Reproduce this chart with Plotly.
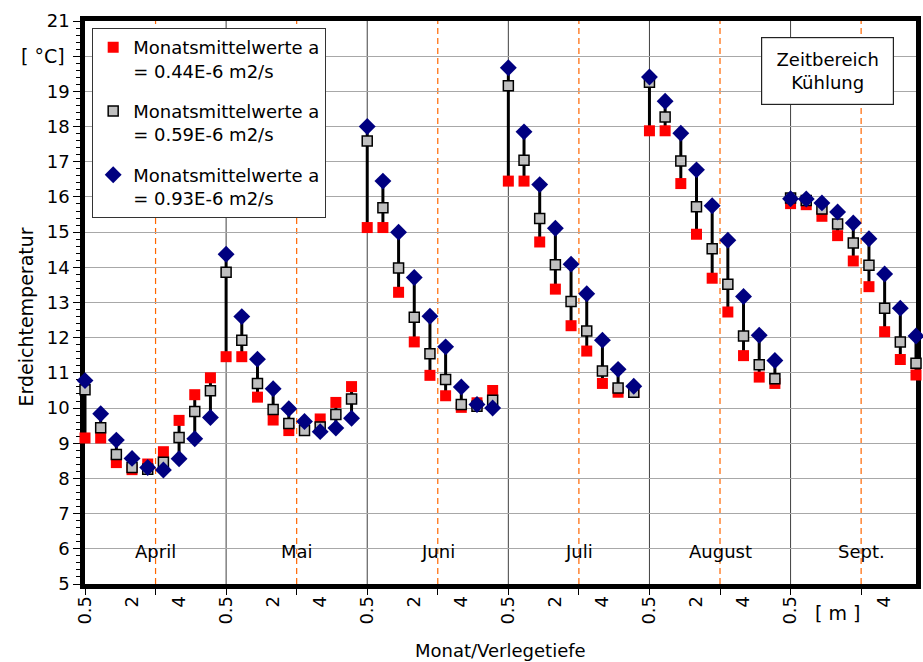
import plotly.graph_objects as go

# Monthly mean ground temperatures at each laying depth, three soil diffusivities
months = ["April", "Mai", "Juni", "Juli", "August", "Sept."]
depth_labels = ["0.5", "2", "4"]
pts_per_month = 9

temp_a044 = [9.15, 9.15, 8.45, 8.25, 8.41, 8.76, 9.65, 10.38, 10.86,
             11.46, 11.46, 10.31, 9.66, 9.36, 9.40, 9.69, 10.16, 10.61,
             15.13, 15.13, 13.29, 11.88, 10.93, 10.35, 10.02, 10.15, 10.50,
             16.45, 16.45, 14.72, 13.38, 12.34, 11.62, 10.70, 10.45, 10.45,
             17.88, 17.88, 16.38, 14.94, 13.69, 12.73, 11.49, 10.88, 10.70,
             15.81, 15.78, 15.45, 14.90, 14.18, 13.45, 12.17, 11.38, 10.94]

temp_a059 = [10.52, 9.44, 8.68, 8.31, 8.26, 8.46, 9.16, 9.90, 10.49,
             13.86, 11.93, 10.70, 9.96, 9.56, 9.36, 9.46, 9.82, 10.26,
             17.59, 15.69, 13.98, 12.58, 11.54, 10.81, 10.10, 10.05, 10.22,
             19.16, 17.04, 15.39, 14.07, 13.03, 12.19, 11.05, 10.57, 10.45,
             19.26, 18.27, 17.02, 15.72, 14.53, 13.52, 12.05, 11.23, 10.83,
             15.97, 15.90, 15.66, 15.23, 14.69, 14.06, 12.84, 11.88, 11.27]

temp_a093 = [10.78, 9.84, 9.09, 8.57, 8.31, 8.24, 8.56, 9.13, 9.73,
             14.37, 12.60, 11.39, 10.55, 9.98, 9.62, 9.33, 9.43, 9.71,
             18.00, 16.45, 15.00, 13.71, 12.61, 11.74, 10.60, 10.10, 10.00,
             19.67, 17.85, 16.35, 15.11, 14.09, 13.25, 11.93, 11.10, 10.62,
             19.41, 18.72, 17.81, 16.77, 15.75, 14.77, 13.17, 12.07, 11.35,
             15.95, 15.94, 15.83, 15.57, 15.26, 14.81, 13.81, 12.84, 12.05]

y_ticks = list(range(5, 22))
y_ticktext = ["" if v == 20 else str(v) for v in y_ticks]

FONT = "DejaVu Sans"
n = len(temp_a044)
xs = list(range(n))
n_months = len(months)
x_max = n - 1

# high-low connectors spanning the three values at each position
lx, ly = [], []
for i in xs:
    vals = (temp_a044[i], temp_a059[i], temp_a093[i])
    lx += [i, i, None]
    ly += [min(vals), max(vals), None]

fig = go.Figure()
fig.add_trace(go.Scatter(x=lx, y=ly, mode="lines", line=dict(color="black", width=3),
                         showlegend=False, hoverinfo="skip", cliponaxis=False))
fig.add_trace(go.Scatter(x=xs, y=temp_a044, mode="markers", legendgroup="a",
                         name="Monatsmittelwerte a<br>= 0.44E-6 m2/s",
                         marker=dict(symbol="square", size=11, color="#FF0000",
                                     line=dict(width=0)), cliponaxis=False))
fig.add_trace(go.Scatter(x=xs, y=temp_a059, mode="markers", legendgroup="b",
                         name="Monatsmittelwerte a<br>= 0.59E-6 m2/s",
                         marker=dict(symbol="square", size=10, color="#C0C0C0",
                                     line=dict(width=1.5, color="black")), cliponaxis=False))
fig.add_trace(go.Scatter(x=xs, y=temp_a093, mode="markers", legendgroup="c",
                         name="Monatsmittelwerte a<br>= 0.93E-6 m2/s",
                         marker=dict(symbol="diamond", size=13, color="#000080",
                                     line=dict(width=0)), cliponaxis=False))

# x tick labels: depth labels every third position, one spot left for the unit
x_tickvals, x_ticktext = [], []
for m in range(n_months):
    for j, lab in enumerate(depth_labels):
        x_tickvals.append(m * pts_per_month + 3 * j)
        x_ticktext.append(lab)
unit_pos = (n_months - 1) * pts_per_month + 3
x_ticktext[x_tickvals.index(unit_pos)] = ""

half = pts_per_month / 2
minor_vals = [k * half for k in range(2 * n_months)]

shapes = []
for m in range(1, n_months):
    shapes.append(dict(type="line", xref="x", yref="paper", x0=m * pts_per_month,
                       x1=m * pts_per_month, y0=0, y1=1, layer="below",
                       line=dict(color="#404040", width=1)))
for m in range(n_months):
    xm = m * pts_per_month + half
    shapes.append(dict(type="line", xref="x", yref="paper", x0=xm, x1=xm, y0=0, y1=1,
                       layer="below", line=dict(color="#FF6600", width=1.2, dash="6px,4px")))

annotations = []
for m, name in enumerate(months):
    annotations.append(dict(x=m * pts_per_month + half, y=5.92, xref="x", yref="y",
                            text=name, showarrow=False,
                            font=dict(size=18, color="black", family=FONT)))
annotations += [
    dict(x=-0.022, y=20, xref="paper", yref="y", text="[ °C]", showarrow=False,
         xanchor="right", yanchor="middle", font=dict(size=19, color="black", family=FONT)),
    dict(x=unit_pos, y=-0.051, xref="x", yref="paper", text="[ m ]", showarrow=False,
         xanchor="center", yanchor="middle", font=dict(size=19, color="black", family=FONT)),
    dict(x=-0.071, y=0.475, xref="paper", yref="paper", text="Erdeichtemperatur",
         textangle=-90, showarrow=False, xanchor="center", yanchor="middle",
         font=dict(size=19, color="black", family=FONT)),
    dict(x=0.5, y=-0.118, xref="paper", yref="paper", text="Monat/Verlegetiefe",
         showarrow=False, xanchor="center", yanchor="middle",
         font=dict(size=18, color="black", family=FONT)),
    dict(x=0.894, y=0.911, xref="paper", yref="paper", text="Zeitbereich<br>Kühlung",
         showarrow=False, xanchor="center", yanchor="middle", width=125, height=60,
         borderpad=3, bgcolor="white", bordercolor="#222", borderwidth=1.2,
         font=dict(size=18, color="black", family=FONT)),
]

fig.update_layout(
    width=923, height=662,
    margin=dict(l=85, r=2, t=21, b=78),
    paper_bgcolor="white", plot_bgcolor="white",
    font=dict(family=FONT, size=18, color="black"),
    showlegend=True,
    legend=dict(x=0.0084, y=0.988, xanchor="left", yanchor="top",
                bgcolor="white", bordercolor="#333", borderwidth=1.2,
                font=dict(size=18, family=FONT, color="black"),
                traceorder="grouped", tracegroupgap=14, valign="top",
                itemwidth=30),
    shapes=shapes,
    annotations=annotations,
    xaxis=dict(range=[0, x_max], tickmode="array", tickvals=x_tickvals, ticktext=x_ticktext,
               tickangle=-90, ticks="", showgrid=False, zeroline=False,
               showline=True, linecolor="black", linewidth=4.5, mirror=True,
               layer="below traces", tickfont=dict(size=18, family=FONT, color="black"),
               minor=dict(tickmode="array", tickvals=minor_vals, ticks="outside",
                          ticklen=6, tickwidth=1.2, tickcolor="black", showgrid=False)),
    yaxis=dict(range=[5, 21], tickmode="array", tickvals=y_ticks, ticktext=y_ticktext,
               ticks="outside", ticklen=7, tickwidth=1.2, tickcolor="black",
               showgrid=True, gridcolor="#A8A8A8", gridwidth=1.4, zeroline=False,
               showline=True, linecolor="black", linewidth=4.5, mirror=True,
               layer="below traces", tickfont=dict(size=18, family=FONT, color="black"),
               minor=dict(dtick=0.2, tick0=5, ticks="outside", ticklen=4, tickwidth=1,
                          tickcolor="black", showgrid=False)),
)

fig.write_html("out.html")
